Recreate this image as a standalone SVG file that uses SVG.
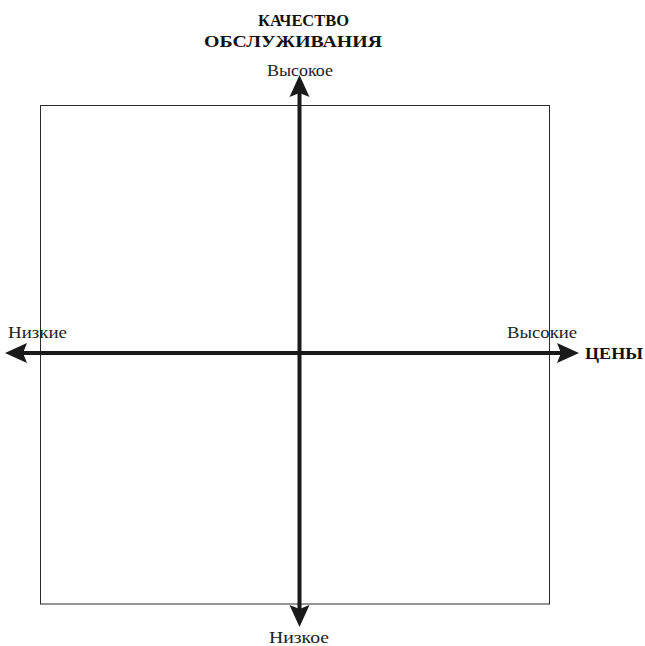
<svg xmlns="http://www.w3.org/2000/svg" width="645" height="646" viewBox="0 0 645 646">
<style>
.t{font-family:"Liberation Serif","Times New Roman",serif;font-size:17px;fill:#222}
.b{font-weight:bold;fill:#111;font-size:17px}
.ax{stroke:#1a1a1a;stroke-width:4;fill:none}
.ah{fill:#1a1a1a}
</style>
<defs>
<path id="arr" d="M0,0 L-22,-10 L-18,0 L-22,10 Z"/>
</defs>
<rect x="40.5" y="105.5" width="509" height="498.5" fill="#fff" stroke="#2a2a2a" stroke-width="1"/>
<g id="connectors">
<line class="ax" x1="299.5" y1="92" x2="299.5" y2="610"/>
<line class="ax" x1="20" y1="353" x2="564" y2="353"/>
<use href="#arr" class="ah" transform="translate(299.5,75) rotate(-90)"/>
<use href="#arr" class="ah" transform="translate(299.5,627) rotate(90)"/>
<use href="#arr" class="ah" transform="translate(5,353) rotate(180)"/>
<use href="#arr" class="ah" transform="translate(579,353)"/>
</g>
<g id="title"><text class="t b" x="258" y="26" textLength="91" lengthAdjust="spacingAndGlyphs">КАЧЕСТВО</text><text class="t b" x="204" y="47" textLength="178" lengthAdjust="spacingAndGlyphs">ОБСЛУЖИВАНИЯ</text></g>
<g id="top"><text class="t" x="267" y="76" textLength="66" lengthAdjust="spacingAndGlyphs">Высокое</text></g>
<g id="bottom"><text class="t" x="269" y="643" textLength="60" lengthAdjust="spacingAndGlyphs">Низкое</text></g>
<g id="left"><text class="t" x="8" y="338" textLength="59" lengthAdjust="spacingAndGlyphs">Низкие</text></g>
<g id="right"><text class="t" x="507" y="338" textLength="70" lengthAdjust="spacingAndGlyphs">Высокие</text></g>
<g id="prices"><text class="t b" x="585" y="359" textLength="58" lengthAdjust="spacingAndGlyphs">ЦЕНЫ</text></g>
</svg>
